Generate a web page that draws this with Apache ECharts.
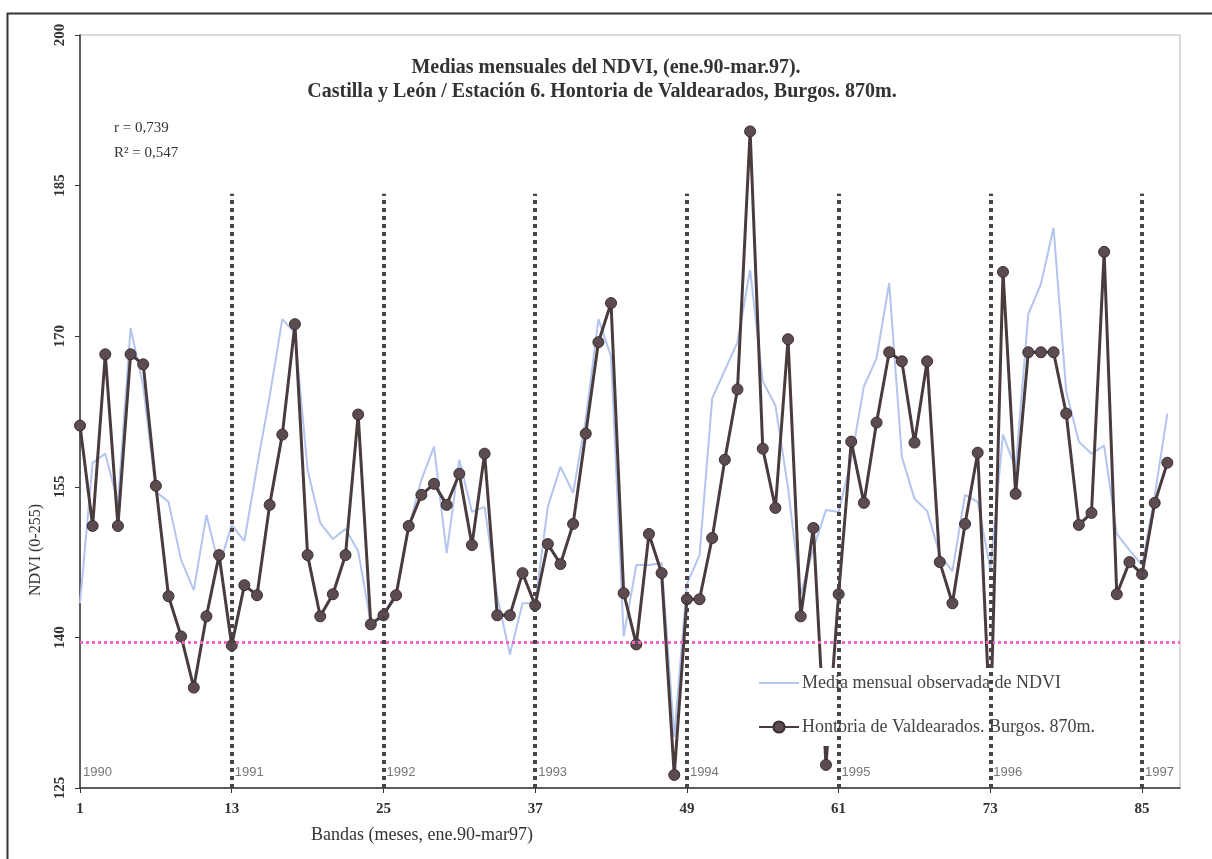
<!DOCTYPE html>
<html>
<head>
<meta charset="utf-8">
<title>Medias mensuales del NDVI</title>
<script src="https://cdn.jsdelivr.net/npm/echarts@6/dist/echarts.min.js"></script>
<style>
    html, body { margin: 0; padding: 0; background: #fff; }
    #chart { width: 1212px; height: 859px; }
</style>
</head>
<body>
<div id="chart"></div>
<script>
// valores, bandas 1..87 (ene.90 - mar.97)
const mediaNdvi = [
    143.4, 157.4, 158.3, 153.4, 170.8, 165.0, 154.5, 153.5, 147.7, 144.7, 152.2, 147.1,
    151.2, 149.6, 157.0, 164.0, 171.7, 170.3, 156.7, 151.4, 149.8, 150.8, 148.6, 141.4,
    142.4, 144.5, 150.9, 155.7, 159.0, 148.4, 157.7, 152.5, 153.0, 144.1, 138.3, 143.4,
    143.4, 153.0, 157.0, 154.4, 161.7, 171.7, 168.0, 140.1, 147.2, 147.2, 147.4, 130.1,
    145.3, 148.2, 163.8, 166.6, 169.4, 176.6, 165.5, 163.1, 154.9, 144.3, 148.8, 152.7,
    152.5, 157.7, 165.0, 167.8, 175.3, 158.0, 153.8, 152.6, 148.2, 146.6, 154.2, 153.5,
    146.8, 160.2, 156.8, 172.2, 175.2, 180.8, 164.5, 159.5, 158.3, 159.1, 150.3, 148.7,
    147.2, 154.1, 162.3
];
const hontoria = [
    161.1, 151.1, 168.2, 151.1, 168.2, 167.2, 155.1, 144.1, 140.1, 135.0, 142.1, 148.2,
    139.2, 145.2, 144.2, 153.2, 160.2, 171.2, 148.2, 142.1, 144.3, 148.2, 162.2, 141.3,
    142.2, 144.2, 151.1, 154.2, 155.3, 153.2, 156.3, 149.2, 158.3, 142.2, 142.2, 146.4,
    143.2, 149.3, 147.3, 151.3, 160.3, 169.4, 173.3, 144.4, 139.3, 150.3, 146.4, 126.3,
    143.8, 143.8, 149.9, 157.7, 164.7, 190.4, 158.8, 152.9, 169.7, 142.1, 150.9, 127.3,
    144.3, 159.5, 153.4, 161.4, 168.4, 167.5, 159.4, 167.5, 147.5, 143.4, 151.3, 158.4,
    131.0, 176.4, 154.3, 168.4, 168.4, 168.4, 162.3, 151.2, 152.4, 178.4, 144.3, 147.5,
    146.3, 153.4, 157.4
];
const xTicks = [1, 13, 25, 37, 49, 61, 73, 85];
const yTicks = [125, 140, 155, 170, 185, 200];
const cambioAnio = [13, 25, 37, 49, 61, 73, 85];
const anios = ['1990', '1991', '1992', '1993', '1994', '1995', '1996', '1997'];
const aniosX = [1, 13, 25, 37, 49, 61, 73, 85];
const umbral = 139.5;
const topeLineas = 184.2;

const serif = "'Liberation Serif', 'Times New Roman', serif";

let chartDom = document.getElementById('chart');
let myChart = echarts.init(chartDom);

let bandas = mediaNdvi.map((v, i) => i + 1);

// grid
let grid = {
    left: 80,
    top: 35,
    right: 32,
    bottom: 71,
    show: true,
    borderColor: '#b4b4b4',
    borderWidth: 1
};

// xAxis
let xAxis = {
    type: 'value',
    min: 1,
    max: 88,
    splitLine: { show: false },
    axisLine: { lineStyle: { color: '#333', width: 1.5 } },
    axisTick: { customValues: xTicks, length: 5, lineStyle: { color: '#333' } },
    axisLabel: {
        customValues: xTicks,
        margin: 14,
        fontFamily: serif,
        fontWeight: 'bold',
        fontSize: 15,
        color: '#333'
    }
};

// yAxis
let yAxis = {
    type: 'value',
    min: 125,
    max: 200,
    splitLine: { show: false },
    axisLine: { show: true, lineStyle: { color: '#333', width: 1.5 } },
    axisTick: { show: true, customValues: yTicks, length: 5, lineStyle: { color: '#333' } },
    axisLabel: {
        customValues: yTicks,
        rotate: 90,
        margin: 12,
        fontFamily: serif,
        fontWeight: 'bold',
        fontSize: 15,
        color: '#333'
    }
};

// leyenda con fondo blanco (tapa las lineas como en el original)
let legend = {
    data: [
        { name: 'Media mensual observada de NDVI', itemStyle: { opacity: 0 } },
        { name: 'Hontoria de Valdearados. Burgos. 870m.' }
    ],
    orient: 'vertical',
    left: 754,
    top: 668,
    itemWidth: 40,
    itemHeight: 14,
    itemGap: 26,
    padding: [6, 30, 10, 4],
    backgroundColor: '#fff',
    textStyle: { fontFamily: serif, fontSize: 18, color: '#444', padding: [0, 0, 0, -2] }
};

// series
let series = [
    {
        name: 'Media mensual observada de NDVI',
        type: 'line',
        symbol: 'none',
        z: 2,
        data: bandas.map((b, i) => [b, mediaNdvi[i]]),
        lineStyle: { color: '#b3c4ee', width: 2 },
        itemStyle: { color: '#b3c4ee' },
        markLine: {
            silent: true,
            symbol: 'none',
            label: { show: false },
            lineStyle: { color: '#f266c8', type: 'dotted', width: 3 },
            data: [{ yAxis: umbral }]
        }
    },
    {
        name: 'Hontoria de Valdearados. Burgos. 870m.',
        type: 'line',
        symbol: 'circle',
        symbolSize: 11,
        z: 3,
        data: bandas.map((b, i) => [b, hontoria[i]]),
        lineStyle: { color: '#4a3b3d', width: 3 },
        itemStyle: { color: '#5d4c4f', borderColor: '#3b2f31', borderWidth: 1 }
    },
    {
        // lineas punteadas de cambio de año, por encima de todo
        name: 'anios',
        type: 'scatter',
        z: 10,
        data: [],
        markLine: {
            silent: true,
            symbol: 'none',
            label: { show: false },
            lineStyle: { color: '#4a4444', type: 'dotted', width: 4 },
            data: cambioAnio.map(x => [{ coord: [x, 125] }, { coord: [x, topeLineas] }])
        }
    },
    {
        name: 'etiquetas',
        type: 'scatter',
        z: 11,
        symbolSize: 0,
        silent: true,
        data: aniosX.map((x, i) => ({ value: [x, 126.6], name: anios[i] })),
        label: {
            show: true,
            position: 'right',
            distance: 3,
            formatter: p => p.name,
            fontFamily: "'Liberation Sans', Arial, sans-serif",
            fontSize: 13,
            color: '#555'
        }
    }
];

// textos sueltos
let graphic = [
    {
        type: 'rect',
        left: 5,
        top: 11,
        shape: { width: 1220, height: 860 },
        style: { fill: 'none', stroke: '#333', lineWidth: 2 },
        silent: true
    },
    {
        type: 'text',
        x: 606,
        y: 68,
        style: {
            text: 'Medias mensuales del NDVI, (ene.90-mar.97).',
            fontFamily: serif, fontWeight: 'bold', fontSize: 20, fill: '#333',
            align: 'center', verticalAlign: 'middle'
        }
    },
    {
        type: 'text',
        x: 602,
        y: 92,
        style: {
            text: 'Castilla y León / Estación 6. Hontoria de Valdearados, Burgos. 870m.',
            fontFamily: serif, fontWeight: 'bold', fontSize: 20, fill: '#333',
            align: 'center', verticalAlign: 'middle'
        }
    },
    {
        type: 'text',
        x: 114,
        y: 128,
        style: {
            text: 'r = 0,739',
            fontFamily: serif, fontSize: 15, fill: '#333', verticalAlign: 'middle'
        }
    },
    {
        type: 'text',
        x: 114,
        y: 153,
        style: {
            text: 'R² = 0,547',
            fontFamily: serif, fontSize: 15, fill: '#333', verticalAlign: 'middle'
        }
    },
    {
        type: 'text',
        x: 36,
        y: 550,
        rotation: Math.PI / 2,
        style: {
            text: 'NDVI (0-255)',
            fontFamily: serif, fontSize: 16, fill: '#333',
            align: 'center', verticalAlign: 'middle'
        }
    },
    {
        type: 'text',
        x: 422,
        y: 835,
        style: {
            text: 'Bandas (meses, ene.90-mar97)',
            fontFamily: serif, fontSize: 18, fill: '#333',
            align: 'center', verticalAlign: 'middle'
        }
    }
];

const option = {
    animation: false,
    backgroundColor: '#fff',
    grid,
    xAxis,
    yAxis,
    legend,
    series,
    graphic
};

option && myChart.setOption(option);
</script>
</body>
</html>
